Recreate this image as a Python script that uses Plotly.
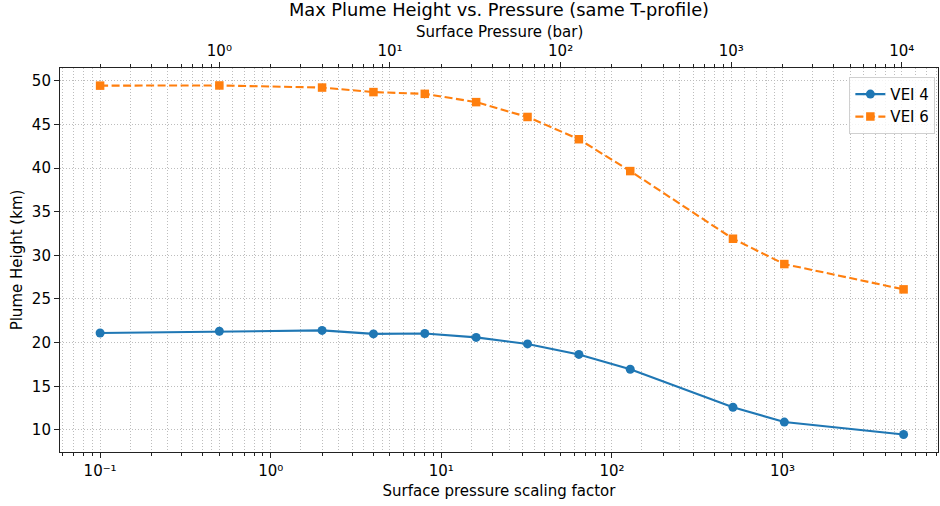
import plotly.graph_objects as go
import numpy as np

# Data
scaling_factor = [0.1, 0.5, 2, 4, 8, 16, 32, 64, 128, 512, 1024, 5120]
vei4_height = [21.1, 21.3, 21.4, 21.0, 21.05, 20.6, 19.85, 18.65, 16.95, 12.6, 10.9, 9.47]
vei6_height = [49.44, 49.46, 49.22, 48.7, 48.5, 47.55, 45.85, 43.3, 39.65, 31.9, 29.0, 26.1]
base_pressure_bar = 2.0  # surface pressure = factor * base

bottom_tickvals = [0.1, 1, 10, 100, 1000]
bottom_ticktext = ["10⁻¹", "10⁰", "10¹", "10²", "10³"]
top_tickvals = [1, 10, 100, 1000, 10000]
top_ticktext = ["10⁰", "10¹", "10²", "10³", "10⁴"]
y_tickvals = [10, 15, 20, 25, 30, 35, 40, 45, 50]

FONT = "DejaVu Sans"
GRID = "#bdbdbd"
BLUE = "#1f77b4"
ORANGE = "#ff7f0e"
FS = 15

xr = [-1.235, 3.911]
yr = [7.47, 51.46]

fig = go.Figure()
fig.add_trace(go.Scatter(
    x=scaling_factor, y=vei4_height, name="VEI 4", mode="lines+markers",
    line=dict(color=BLUE, width=2.1),
    marker=dict(symbol="circle", size=9, color=BLUE),
))
fig.add_trace(go.Scatter(
    x=scaling_factor, y=vei6_height, name="VEI 6", mode="lines+markers",
    line=dict(color=ORANGE, width=2.1, dash="8px,3.5px"),
    marker=dict(symbol="square", size=8.5, color=ORANGE),
))
# helper (invisible) trace to bind the top pressure axis
fig.add_trace(go.Scatter(
    x=[f * base_pressure_bar for f in scaling_factor], y=vei4_height,
    xaxis="x2", mode="markers", marker=dict(opacity=0), showlegend=False,
    hoverinfo="skip",
))

GRIDDASH = "1px,2px"
minor_common = dict(ticks="outside", ticklen=2.8, tickwidth=0.8, tickcolor="#222",
                    showgrid=True, gridcolor=GRID, griddash=GRIDDASH, gridwidth=1)

fig.update_layout(
    width=940, height=506,
    margin=dict(l=60, r=2, t=68, b=54),
    paper_bgcolor="white", plot_bgcolor="white",
    font=dict(family=FONT, size=FS, color="black"),
    title=dict(text="Max Plume Height vs. Pressure (same T-profile)",
               x=499 / 940, xanchor="center", y=1 - 10 / 506, yanchor="middle",
               font=dict(family=FONT, size=17.8, color="black")),
    xaxis=dict(
        type="log", range=xr, tickvals=bottom_tickvals, ticktext=bottom_ticktext,
        ticks="outside", ticklen=5, tickwidth=1, tickcolor="#222",
        showline=True, linecolor="#222", linewidth=1.1, mirror=False,
        showgrid=True, gridcolor=GRID, griddash=GRIDDASH, gridwidth=1,
        minor=dict(dtick="D1", **minor_common),
        title=dict(text="Surface pressure scaling factor", standoff=6,
                   font=dict(size=FS)),
        tickfont=dict(size=FS), zeroline=False, ticklabelstandoff=0,
    ),
    xaxis2=dict(
        type="log", overlaying="x", side="top", anchor="y",
        range=[xr[0] + np.log10(base_pressure_bar), xr[1] + np.log10(base_pressure_bar)],
        tickvals=top_tickvals, ticktext=top_ticktext,
        ticks="outside", ticklen=5, tickwidth=1, tickcolor="#222",
        showline=True, linecolor="#222", linewidth=1.1,
        showgrid=True, gridcolor=GRID, griddash=GRIDDASH, gridwidth=1,
        minor=dict(dtick="D1", **minor_common),
        tickfont=dict(size=FS), zeroline=False, ticklabelstandoff=0,
    ),
    yaxis=dict(
        range=yr, tickvals=y_tickvals,
        ticks="outside", ticklen=5, tickwidth=1, tickcolor="#222",
        showline=True, linecolor="#222", linewidth=1.1, mirror=True,
        showgrid=True, gridcolor=GRID, griddash=GRIDDASH, gridwidth=1,
        title=dict(text="Plume Height (km)", standoff=5, font=dict(size=FS)),
        tickfont=dict(size=FS), zeroline=False,
    ),
    legend=dict(
        x=0.997, xanchor="right", y=0.977, yanchor="top",
        bgcolor="rgba(255,255,255,0.8)", bordercolor="#d0d0d0", borderwidth=1,
        font=dict(size=15), tracegroupgap=0,
    ),
    showlegend=True,
)

fig.add_annotation(
    text="Surface Pressure (bar)", xref="paper", yref="paper",
    x=0.5, y=(452 - 32) / 384, xanchor="center", yanchor="middle",
    showarrow=False, font=dict(family=FONT, size=FS, color="black"),
)

fig.write_html("out.html")
